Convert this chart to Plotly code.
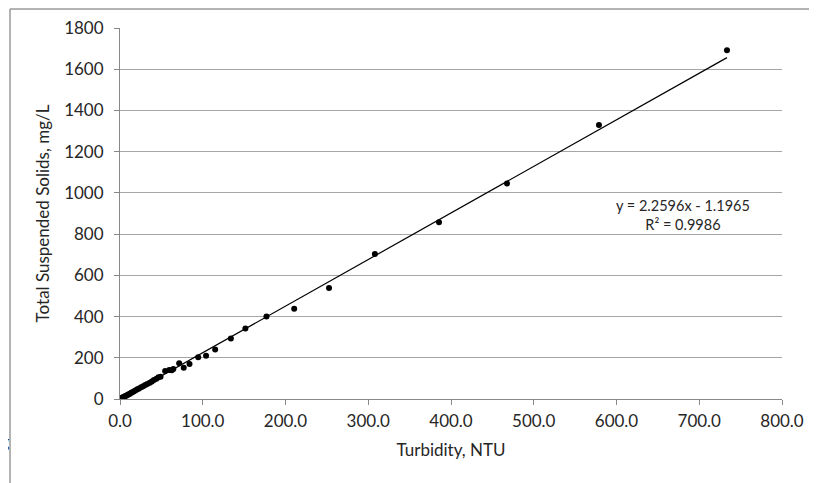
import plotly.graph_objects as go

turbidity = [1.5, 2.5, 3.5, 4.5, 5.5, 6.5, 8, 9, 10.5, 12, 13.5, 15, 17, 19, 21, 23, 25.5, 28,
             30.5, 33, 36, 38.5, 41, 44, 46.5, 49, 54.5, 59.5, 62.5, 64.5, 71.5, 77, 84, 94.5,
             104, 115, 134, 151.5, 177, 210.5, 252.6, 308, 385.5, 467.7, 578.8, 733.5]
tss = [5, 6, 8, 10, 12, 14, 17, 20, 23, 26, 30, 33, 38, 42, 47, 51, 57, 62,
       68, 73, 79, 85, 92, 98, 105, 108, 136, 141, 140, 146, 173, 152, 170, 202,
       210, 240, 294, 342, 400, 438, 538, 703, 858, 1046, 1329, 1692]

slope = 2.2596
intercept = -1.1965
r2 = 0.9986
x_ticks = [0, 100, 200, 300, 400, 500, 600, 700, 800]
y_ticks = [0, 200, 400, 600, 800, 1000, 1200, 1400, 1600, 1800]

FONT = "Lato"
FS = 17
xmin, xmax = min(turbidity), max(turbidity)

OFF = 8  # default page body margin
W, H = 817 - OFF, 483 - OFF
# target plot area in window pixels: x 120..782, y 28..399
L, T = 120 - OFF, 28 - OFF
R = W - (782 - OFF)
B = H - (399 - OFF)
PW, PH = W - L - R, H - T - B


def px(xw):
    return (xw - 120) / PW


def py(yw):
    return (399 - yw) / PH


fig = go.Figure()
fig.add_trace(go.Scatter(
    x=[xmin, xmax], y=[slope * xmin + intercept, slope * xmax + intercept],
    mode="lines", line=dict(color="black", width=1.2), showlegend=False, hoverinfo="skip"))
fig.add_trace(go.Scatter(
    x=turbidity, y=tss, mode="markers",
    marker=dict(color="black", size=6), showlegend=False))

fig.update_layout(
    width=W, height=H,
    margin=dict(l=L, r=R, t=T, b=B, autoexpand=False),
    paper_bgcolor="white", plot_bgcolor="white",
    font=dict(family=FONT, size=FS, color="#262626"),
    xaxis=dict(
        range=[0, 800], tickvals=x_ticks, ticktext=[f"{v:.1f}" for v in x_ticks],
        showgrid=False, zeroline=False, showline=True, linecolor="#888888", linewidth=1,
        ticks="outside", ticklen=5, tickcolor="#888888", ticklabelstandoff=2,
        title=dict(text="Turbidity, NTU", font=dict(size=FS), standoff=13),
    ),
    yaxis=dict(
        range=[0, 1800], tickvals=y_ticks,
        showgrid=True, gridcolor="#a6a6a6", gridwidth=1, zeroline=False,
        showline=True, linecolor="#888888", linewidth=1,
        ticks="outside", ticklen=5, tickcolor="#888888", ticklabelstandoff=7,
        title=dict(text="Total Suspended Solids, mg/L", font=dict(size=FS), standoff=10),
    ),
    shapes=[
        dict(type="line", xref="paper", yref="paper", x0=px(10), x1=px(830), y0=py(9), y1=py(9),
             line=dict(color="#9a9a9a", width=1.5)),
        dict(type="line", xref="paper", yref="paper", x0=px(10), x1=px(10), y0=py(9), y1=py(500),
             line=dict(color="#9a9a9a", width=1.5)),
    ],
    annotations=[
        dict(xref="paper", yref="paper", x=px(683), y=py(215), xanchor="center", yanchor="middle",
             text=f"y = {slope}x - {abs(intercept)}<br>R² = {r2}", showarrow=False,
             font=dict(size=14.5), align="center"),
        dict(xref="paper", yref="paper", x=px(11), y=py(441), xanchor="right", yanchor="middle",
             text="ng", showarrow=False, font=dict(size=FS)),
    ],
)

fig.write_html("out.html", config={"displayModeBar": False})
